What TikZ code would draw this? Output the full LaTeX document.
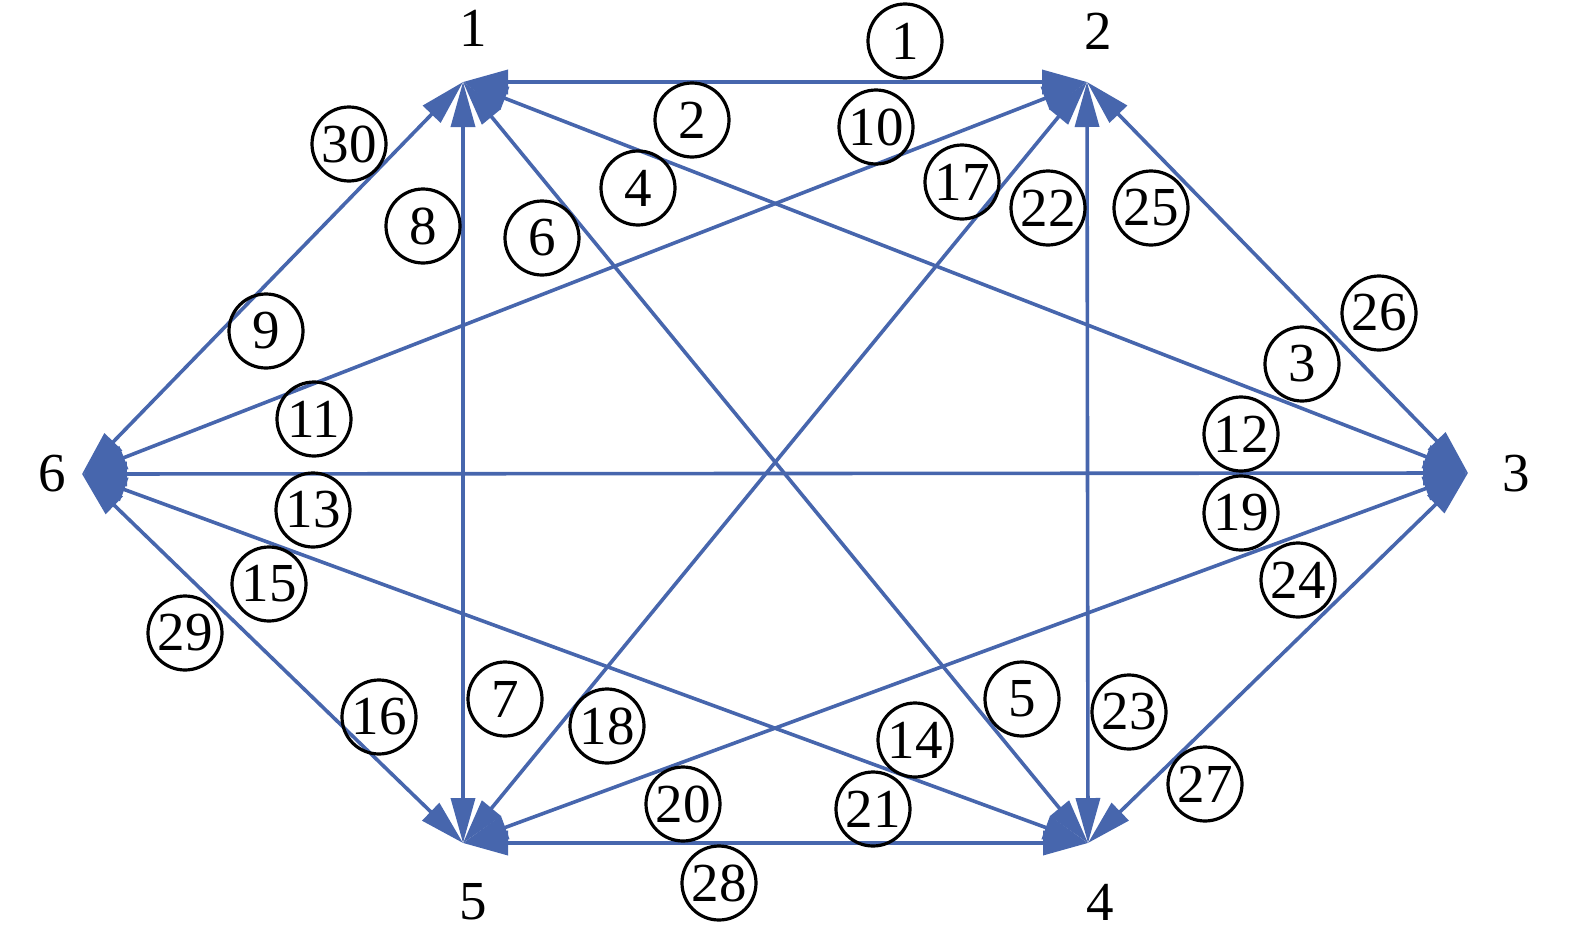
\documentclass[tikz,border=0pt]{standalone}
\usepackage{fontspec}
\setmainfont{Liberation Serif}
\usetikzlibrary{arrows.meta}
\definecolor{edgeblue}{HTML}{4766AD}
\begin{document}
\begin{tikzpicture}[x=1pt,y=-1pt,
  edge/.style={draw=edgeblue, line width=3.6pt,
    {Triangle[length=45pt,width=24pt]}-{Triangle[length=45pt,width=24pt]}},
  elabel/.style={circle, draw=black, line width=3.2pt, minimum size=74pt,
    inner sep=0pt, font=\fontsize{55}{60}\selectfont},
  vlabel/.style={font=\fontsize{55}{60}\selectfont, inner sep=0pt}]
\useasboundingbox (0,0) rectangle (1575,937);
% vertices
\coordinate (n1) at (463,82);
\coordinate (n2) at (1087,82);
\coordinate (n3) at (1468,473);
\coordinate (n4) at (1088,843);
\coordinate (n5) at (463,843);
\coordinate (n6) at (82,474);
% vertex labels
\node[vlabel] (l1) at (473,28) {1};
\node[vlabel] (l2) at (1098,31) {2};
\node[vlabel] (l3) at (1516,474) {3};
\node[vlabel] (l4) at (1100,902) {4};
\node[vlabel] (l5) at (473,902) {5};
\node[vlabel] (l6) at (52,474) {6};
% edges
\draw[edge] (n1) -- (n2);
\draw[edge] (n1) -- (n3);
\draw[edge] (n1) -- (n4);
\draw[edge] (n1) -- (n5);
\draw[edge] (n1) -- (n6);
\draw[edge] (n2) -- (n3);
\draw[edge] (n2) -- (n4);
\draw[edge] (n2) -- (n5);
\draw[edge] (n2) -- (n6);
\draw[edge] (n3) -- (n4);
\draw[edge] (n3) -- (n5);
\draw[edge] (n3) -- (n6);
\draw[edge] (n4) -- (n5);
\draw[edge] (n4) -- (n6);
\draw[edge] (n5) -- (n6);
% edge labels
\node[elabel] (e1) at (905,41) {1};
\node[elabel] (e2) at (692,120) {2};
\node[elabel] (e3) at (1302,364) {3};
\node[elabel] (e4) at (638,188) {4};
\node[elabel] (e5) at (1022,699) {5};
\node[elabel] (e6) at (542,238) {6};
\node[elabel] (e7) at (505,699) {7};
\node[elabel] (e8) at (423,226) {8};
\node[elabel] (e9) at (266,331) {9};
\node[elabel] (e10) at (876,127) {10};
\node[elabel] (e11) at (314,419) {11};
\node[elabel] (e12) at (1241,434) {12};
\node[elabel] (e13) at (313,510) {13};
\node[elabel] (e14) at (915,740) {14};
\node[elabel] (e15) at (269,584) {15};
\node[elabel] (e16) at (379,717) {16};
\node[elabel] (e17) at (962,182) {17};
\node[elabel] (e18) at (607,726) {18};
\node[elabel] (e19) at (1241,513) {19};
\node[elabel] (e20) at (683,804) {20};
\node[elabel] (e21) at (873,809) {21};
\node[elabel] (e22) at (1048,208) {22};
\node[elabel] (e23) at (1129,712) {23};
\node[elabel] (e24) at (1298,580) {24};
\node[elabel] (e25) at (1151,208) {25};
\node[elabel] (e26) at (1379,313) {26};
\node[elabel] (e27) at (1205,784) {27};
\node[elabel] (e28) at (719,883) {28};
\node[elabel] (e29) at (185,633) {29};
\node[elabel] (e30) at (349,144) {30};
\end{tikzpicture}
\end{document}
